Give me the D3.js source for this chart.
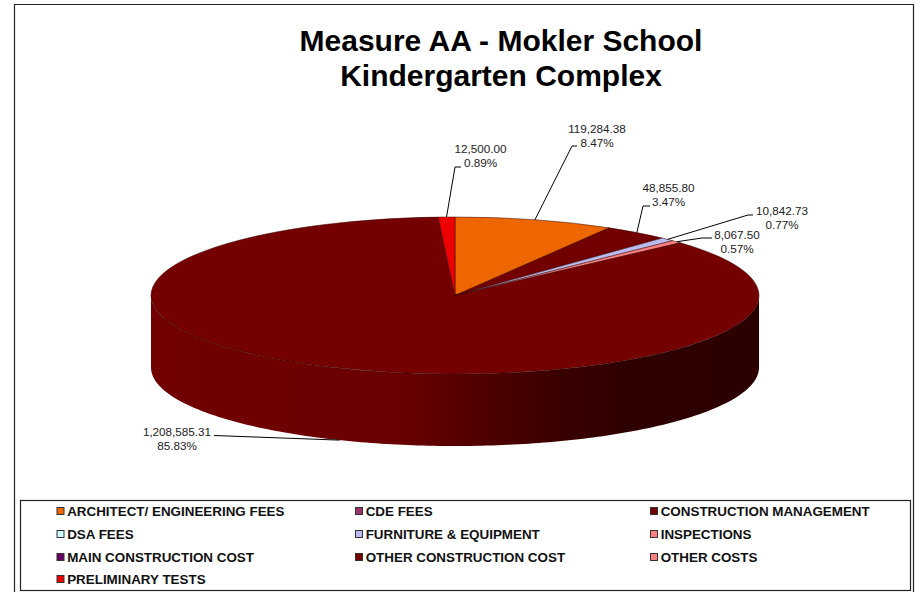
<!DOCTYPE html>
<html><head><meta charset="utf-8">
<script src="https://cdn.jsdelivr.net/npm/d3@7/dist/d3.min.js"></script>
<style>html,body{margin:0;background:#fff}svg{display:block}text{font-family:"Liberation Sans",Arial,sans-serif}</style>
</head><body><svg id="c" width="921" height="592"></svg>
<script>
const titleLines = ["Measure AA - Mokler School", "Kindergarten Complex"];
const categories = ["ARCHITECT/ ENGINEERING FEES","CDE FEES","CONSTRUCTION MANAGEMENT","DSA FEES","FURNITURE & EQUIPMENT","INSPECTIONS","MAIN CONSTRUCTION COST","OTHER CONSTRUCTION COST","OTHER COSTS","PRELIMINARY TESTS"];
const values = [119284.38,0,48855.80,0,10842.73,8067.50,0,1208585.31,0,12500.00];
const colors = ["#ee6600","#993366","#720000","#ccffff","#bbbbee","#ff8080","#660066","#740000","#ff8080","#ee0000"];
const percents = ["8.47%","","3.47%","","0.77%","0.57%","","85.83%","","0.89%"];

const cx=455, cy=295.5, rx=304, ry=78.5, depth=72;
const svg=d3.select("#c");

// frame
svg.append("path").attr("d",`M14.5,592V4.5H913.5V592`).attr("fill","none").attr("stroke","#222").attr("stroke-width",1.2);
svg.append("rect").attr("x",20.5).attr("y",500.5).attr("width",890).attr("height",90).attr("fill","#fff").attr("stroke","#222").attr("stroke-width",1.2);

svg.append("g").selectAll("text").data(titleLines).join("text")
  .attr("x",501).attr("y",(d,i)=>51+i*35).attr("text-anchor","middle")
  .attr("font-size",30).attr("font-weight","bold").attr("fill","#000").text(d=>d);

// pie
const pieData=d3.pie().sort(null).value(d=>d)(values);
const arc=d3.arc().innerRadius(0).outerRadius(rx);
const defs=svg.append("defs");
const grad=defs.append("linearGradient").attr("id","wall").attr("gradientUnits","userSpaceOnUse")
  .attr("x1",cx-rx).attr("x2",cx+rx).attr("y1",0).attr("y2",0);
[[0,"#720000"],[0.4,"#6a0000"],[0.48,"#5c0000"],[0.67,"#3a0000"],[0.8,"#2e0000"],[1,"#2d0000"]].forEach(([o,c])=>grad.append("stop").attr("offset",o).attr("stop-color",c));

// wall (front half of the cylinder)
const ang=d3.range(90,270.5,1).map(d=>d*Math.PI/180);
const wall=d3.area().x(a=>cx+rx*Math.sin(a)).y0(a=>cy-ry*Math.cos(a)).y1(a=>cy-ry*Math.cos(a)+depth);
svg.append("path").attr("d",wall(ang)).attr("fill","url(#wall)");
// top face
const topFace=svg.append("g").attr("transform",`translate(${cx},${cy}) scale(1,${ry/rx})`);
topFace.selectAll("path").data(pieData.filter(d=>d.value>0)).join("path")
  .attr("d",arc).attr("fill",d=>colors[d.index]).attr("stroke","#300").attr("stroke-width",0.5).attr("vector-effect","non-scaling-stroke");

// leaders and labels
const fmt=d3.format(",.2f");
const labelAt={0:[597,133],2:[668.5,192],4:[782,215],5:[737,239],7:[177,436],9:[480.5,153]};
const elbow={0:[572,146,577],2:[643,206,650],4:[748,215,753],5:[702,238,712],7:[214,435.5,214],9:[455,167,461]};
pieData.filter(d=>d.value>0).forEach(d=>{
  const a=(d.startAngle+d.endAngle)/2, i=d.index;
  const wallDrop=Math.cos(a)<0?depth:0;
  const px=cx+rx*Math.sin(a), py=cy-ry*Math.cos(a)+wallDrop;
  svg.append("path").attr("fill","none").attr("stroke","#000").attr("stroke-width",1)
    .attr("d",`M${px},${py}L${elbow[i][0]},${elbow[i][1]}H${elbow[i][2]}`);
  const g=svg.append("g").attr("font-size",11.7).attr("fill","#222").attr("text-anchor","middle");
  g.append("text").attr("x",labelAt[i][0]).attr("y",labelAt[i][1]).text(fmt(d.value));
  g.append("text").attr("x",labelAt[i][0]).attr("y",labelAt[i][1]+13.5).text(percents[i]);
});

// legend
const lx=[56.5,355,650], ly=[511,534,557,579];
const items=svg.append("g").selectAll("g").data(categories).join("g")
  .attr("transform",(d,i)=>`translate(${lx[i%3]},${ly[Math.floor(i/3)]})`);
items.append("rect").attr("x",0.5).attr("y",-3.5).attr("width",7).attr("height",7)
  .attr("fill",(d,i)=>colors[i]).attr("stroke","#333").attr("stroke-width",1);
items.append("text").attr("x",10.7).attr("y",4.5).attr("font-size",13.4).attr("font-weight","bold").attr("fill","#111").text(d=>d);
</script></body></html>
